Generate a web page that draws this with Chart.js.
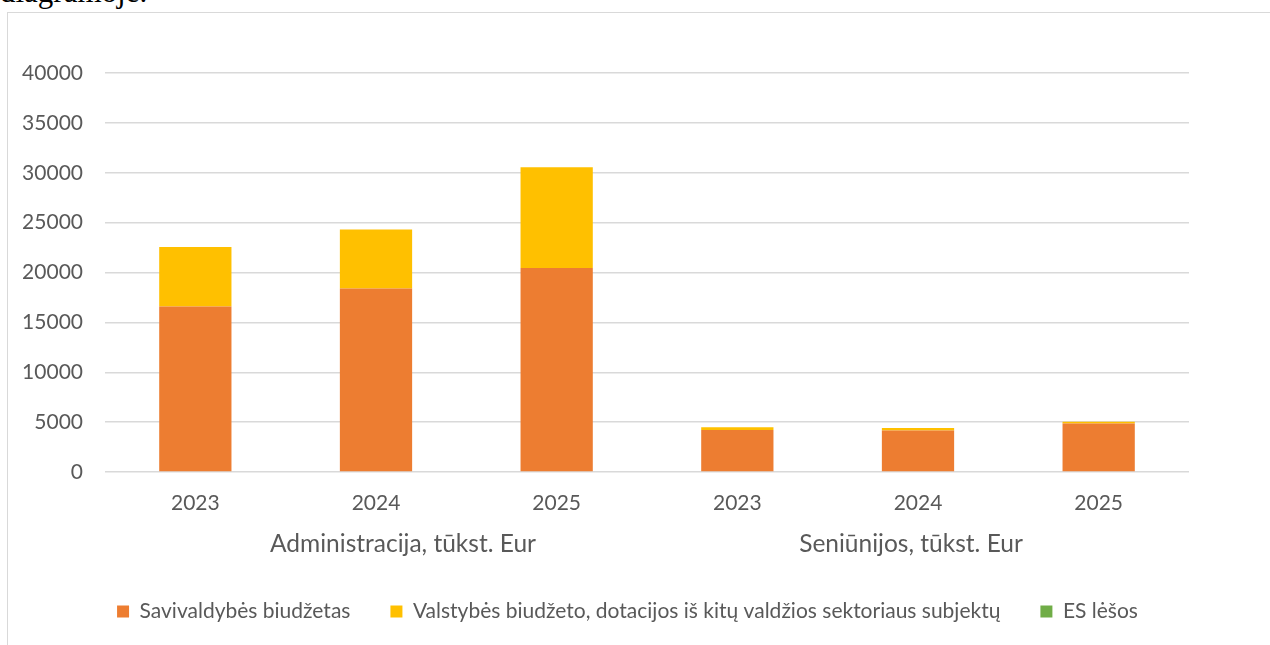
<!DOCTYPE html>
<html>
<head>
<meta charset="utf-8">
<script src="https://cdn.jsdelivr.net/npm/chart.js@4"></script>
<style>
  html, body { margin: 0; padding: 0; background: #fff; overflow: hidden; }
  body { width: 1270px; height: 645px; position: relative; }
  #topText { position: absolute; left: 0; top: -24px; font: 31px/31px "Liberation Serif", serif; color: #000; }
  #frame { position: absolute; left: 7px; top: 12px; width: 1300px; height: 700px; border: 1px solid #d9d9d9; box-sizing: border-box; }
  #wrap { position: absolute; left: 8px; top: 13px; width: 1240px; height: 632px; }
</style>
</head>
<body>
<div id="topText">diagramoje.</div>
<div id="frame"></div>
<div id="wrap"><canvas id="chart"></canvas></div>
<script>
const years = ['2023', '2024', '2025', '2023', '2024', '2025'];
const groups = ['Administracija, tūkst. Eur', 'Seniūnijos, tūkst. Eur'];
const savivaldybes = [16600, 18400, 20450, 4220, 4150, 4850];
const valstybes = [5950, 5900, 10100, 270, 270, 180];
const esLesos = [0, 0, 0, 0, 0, 0];
const yTicks = [0, 5000, 10000, 15000, 20000, 25000, 30000, 35000, 40000];

const textColor = '#595959';
const fontFamily = 'Lato, "Open Sans", sans-serif';

// group labels under the year ticks
const groupLabels = {
    id: 'groupLabels',
    afterDraw(chart) {
        const x = chart.scales.x;
        const ctx = chart.ctx;
        ctx.save();
        ctx.fillStyle = textColor;
        ctx.font = '24.5px ' + fontFamily;
        ctx.textAlign = 'center';
        ctx.textBaseline = 'middle';
        groups.forEach((g, i) => {
            const mid = (x.getPixelForValue(i * 3) + x.getPixelForValue(i * 3 + 2)) / 2;
            ctx.fillText(g, mid + (i === 0 ? 27 : -7), chart.chartArea.bottom + 72);
        });
        ctx.restore();
    }
};

// legend is centred on the whole frame, not on the padded area
const legendShift = {
    id: 'legendShift',
    beforeDraw(chart) {
        chart.legend.left += 29;
        chart.legend.right += 29;
    }
};

new Chart(document.getElementById('chart'), {
    type: 'bar',
    data: {
        labels: years,
        datasets: [
            { label: 'Savivaldybės biudžetas', data: savivaldybes, backgroundColor: '#ED7D31' },
            { label: 'Valstybės biudžeto, dotacijos iš kitų valdžios sektoriaus subjektų', data: valstybes, backgroundColor: '#FFC000' },
            { label: 'ES lėšos', data: esLesos, backgroundColor: '#70AD47' }
        ]
    },
    options: {
        responsive: true,
        maintainAspectRatio: false,
        animation: false,
        datasets: { bar: { categoryPercentage: 1, barPercentage: 0.4 } },
        layout: { padding: { top: 60, right: 59, bottom: 13, left: 0 } },
        plugins: {
            tooltip: { enabled: false },
            legend: {
                position: 'bottom',
                labels: {
                    color: textColor,
                    font: { family: fontFamily, size: 21 },
                    boxWidth: 12,
                    boxHeight: 12,
                    padding: 40
                }
            }
        },
        scales: {
            x: {
                stacked: true,
                grid: { display: false },
                border: { display: false },
                ticks: { color: textColor, font: { family: fontFamily, size: 21 }, padding: 11, maxRotation: 0 },
                afterFit: s => { s.height = 89; }
            },
            y: {
                stacked: true,
                min: 0,
                max: 40000,
                afterBuildTicks: s => { s.ticks = yTicks.map(v => ({ value: v })); },
                grid: { color: '#d9d9d9', lineWidth: 1.5, drawTicks: false },
                border: { display: false },
                ticks: {
                    color: textColor,
                    font: { family: fontFamily, size: 21 },
                    padding: 22,
                    callback: v => String(v)
                },
                afterFit: s => { s.width = 97; }
            }
        }
    },
    plugins: [groupLabels, legendShift]
});
</script>
</body>
</html>
